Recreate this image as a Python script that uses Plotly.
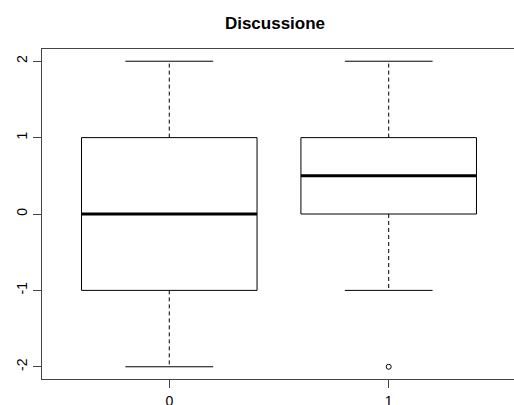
import plotly.graph_objects as go

# Five-number summaries per group, as drawn by a classic box plot
groups = ["0", "1"]
lower_whisker = [-2, -1]
q1 = [-1, 0]
median = [0, 0.5]
q3 = [1, 1]
upper_whisker = [2, 2]
outliers = [[], [-2]]
y_ticks = [-2, -1, 0, 1, 2]
y_ticktext = ["-2", "-1", "0", "1", "2"]

box_half = 0.4
cap_half = 0.2

fig = go.Figure()

for i, name in enumerate(groups):
    x = i + 1
    # box outline
    fig.add_trace(go.Scatter(
        x=[x - box_half, x + box_half, x + box_half, x - box_half, x - box_half],
        y=[q1[i], q1[i], q3[i], q3[i], q1[i]],
        mode="lines", line=dict(color="black", width=1), hoverinfo="skip"))
    # median
    fig.add_trace(go.Scatter(
        x=[x - box_half, x + box_half], y=[median[i], median[i]],
        mode="lines", line=dict(color="black", width=3), hoverinfo="skip"))
    # dashed whiskers
    for a, b in ((q3[i], upper_whisker[i]), (q1[i], lower_whisker[i])):
        fig.add_trace(go.Scatter(
            x=[x, x], y=[a, b], mode="lines",
            line=dict(color="black", width=1, dash="4px,3px"), hoverinfo="skip"))
    # whisker caps
    for v in (upper_whisker[i], lower_whisker[i]):
        fig.add_trace(go.Scatter(
            x=[x - cap_half, x + cap_half], y=[v, v], mode="lines",
            line=dict(color="black", width=1), hoverinfo="skip"))
    # outliers
    if outliers[i]:
        fig.add_trace(go.Scatter(
            x=[x] * len(outliers[i]), y=outliers[i], mode="markers",
            marker=dict(symbol="circle-open", size=5, color="black",
                        line=dict(width=1)), hoverinfo="skip"))

fig.update_layout(
    width=514, height=405,
    margin=dict(l=42, r=0, t=49, b=26),
    paper_bgcolor="white", plot_bgcolor="white",
    showlegend=False,
    font=dict(family="Liberation Sans, Arial, sans-serif", color="black", size=14),
    title=dict(text="<b>Discussione</b>", x=0.535, xanchor="center",
               y=1 - 23 / 405, yanchor="middle",
               font=dict(size=17, color="black")),
    xaxis=dict(range=[0.42, 2.571], tickvals=[1, 2], ticktext=groups,
               showgrid=False, zeroline=False, showline=True, mirror=True,
               linecolor="#444", linewidth=1, ticks="outside", ticklen=8,
               tickcolor="#444", tickfont=dict(size=14), ticklabelstandoff=1,
               automargin=False),
    yaxis=dict(range=[-2.16, 2.16], tickvals=y_ticks, ticktext=y_ticktext,
               showgrid=False, zeroline=False, showline=True, mirror=False,
               linecolor="#444", linewidth=1, ticks="outside", ticklen=8,
               tickcolor="#444", tickangle=-90, tickfont=dict(size=14),
               automargin=False),
)

fig.write_html("out.html")
